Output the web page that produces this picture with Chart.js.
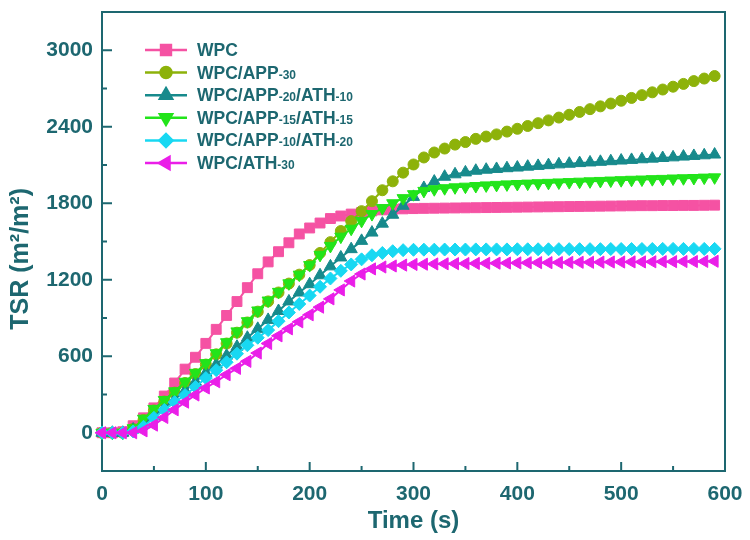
<!DOCTYPE html>
<html>
<head>
<meta charset="utf-8">
<script src="https://cdn.jsdelivr.net/npm/chart.js"></script>
<style>
  html, body { margin: 0; padding: 0; background: #fff; }
  #wrap { width: 750px; height: 540px; }
</style>
</head>
<body>
<div id="wrap"><canvas id="tsr" width="750" height="540"></canvas></div>
<script>
// time (s)
const times = [0,10,20,30,40,50,60,70,80,90,100,110,120,130,140,150,160,170,180,190,
  200,210,220,230,240,250,260,270,280,290,300,310,320,330,340,350,360,370,380,390,
  400,410,420,430,440,450,460,470,480,490,500,510,520,530,540,550,560,570,580,590];

// TSR (m2/m2) per sample
const wpc = [0,0,8,55,117,195,288,390,499,592,
  701,811,920,1029,1138,1247,1340,1420,1490,1559,
  1606,1645,1680,1700,1715,1728,1740,1748,1753,1756,
  1758,1760,1761,1762,1763,1764,1765,1766,1767,1768,
  1769,1770,1771,1772,1773,1774,1775,1776,1777,1778,
  1779,1780,1781,1781,1782,1782,1783,1783,1784,1785];
const app30 = [0,0,0,30,100,175,245,315,390,460,
  535,615,700,785,865,950,1030,1100,1170,1240,
  1315,1410,1495,1582,1660,1738,1816,1902,1972,2040,
  2104,2159,2198,2229,2260,2280,2305,2323,2340,2362,
  2384,2406,2428,2450,2472,2494,2516,2538,2560,2582,
  2604,2626,2648,2670,2692,2714,2736,2758,2778,2798];
const app20ath10 = [0,0,0,25,70,130,195,260,330,400,
  470,535,605,675,745,815,885,955,1030,1100,
  1165,1235,1305,1375,1440,1505,1570,1640,1710,1780,
  1850,1920,1970,2008,2027,2042,2055,2063,2069,2075,
  2080,2087,2093,2099,2105,2110,2115,2120,2125,2130,
  2135,2140,2145,2150,2155,2160,2166,2171,2176,2182];
const app15ath15 = [0,0,0,35,110,187,257,325,400,470,
  546,624,710,795,875,959,1037,1105,1172,1240,
  1315,1395,1465,1538,1600,1662,1715,1762,1800,1840,
  1871,1897,1910,1918,1925,1930,1935,1940,1944,1948,
  1951,1954,1957,1960,1963,1966,1969,1972,1975,1978,
  1981,1984,1986,1989,1991,1994,1996,1998,2001,2003];
const app10ath20 = [0,0,0,10,47,117,179,240,296,359,
  429,491,553,620,686,745,805,875,943,1010,
  1076,1145,1210,1270,1320,1360,1392,1410,1424,1432,
  1435,1436,1436,1437,1437,1437,1438,1438,1438,1438,
  1439,1439,1439,1439,1440,1440,1440,1440,1440,1441,
  1441,1441,1441,1441,1442,1442,1442,1442,1442,1442];
const ath30 = [0,0,0,0,15,60,120,180,240,296,
  351,400,455,505,560,625,700,760,815,870,
  925,985,1050,1120,1190,1245,1285,1300,1308,1315,
  1320,1322,1324,1325,1326,1327,1328,1329,1330,1331,
  1332,1333,1334,1334,1335,1336,1337,1337,1338,1339,
  1339,1340,1340,1341,1342,1342,1343,1343,1344,1345];

const xTicks = [0,100,200,300,400,500,600];
const xMinor = [50,150,250,350,450,550];
const yTicks = [0,600,1200,1800,2400,3000];
const yMinor = [300,900,1500,2100,2700];

// legend text: [text, small?]
const legendParts = [
  [['WPC', false]],
  [['WPC/APP', false], ['-30', true]],
  [['WPC/APP', false], ['-20', true], ['/ATH', false], ['-10', true]],
  [['WPC/APP', false], ['-15', true], ['/ATH', false], ['-15', true]],
  [['WPC/APP', false], ['-10', true], ['/ATH', false], ['-20', true]],
  [['WPC/ATH', false], ['-30', true]]
];

const ink = '#1d6770';
const font = 'Arial, "Liberation Sans", sans-serif';

function series(vals, color, style, rot, r, order) {
  return {
    data: times.map((t, i) => ({ x: t, y: vals[i] })),
    borderColor: color,
    backgroundColor: color,
    pointBackgroundColor: color,
    pointBorderColor: color,
    borderWidth: 2,
    pointStyle: style,
    rotation: rot,
    pointRadius: r,
    pointBorderWidth: 1,
    tension: 0,
    clip: false,
    order: order
  };
}

const datasets = [
  series(wpc, '#f552a3', 'rect', 0, 7, 6),
  series(app30, '#8db20a', 'circle', 0, 5.5, 5),
  series(app20ath10, '#178a8c', 'triangle', 0, 7, 4),
  series(app15ath15, '#22e41a', 'triangle', 180, 7, 3),
  series(app10ath20, '#18d8f2', 'rectRot', 0, 6.5, 2),
  series(ath30, '#ea1ee8', 'triangle', 270, 7, 1)
];

const framePlugin = {
  id: 'frame',
  beforeDatasetsDraw(chart) {
    const { ctx, chartArea: a, scales } = chart;
    ctx.save();
    ctx.strokeStyle = ink;
    ctx.lineWidth = 2;
    ctx.strokeRect(a.left, a.top, a.right - a.left, a.bottom - a.top);
    ctx.beginPath();
    xTicks.forEach(v => { const px = scales.x.getPixelForValue(v); ctx.moveTo(px, a.bottom); ctx.lineTo(px, a.bottom - 9); });
    xMinor.forEach(v => { const px = scales.x.getPixelForValue(v); ctx.moveTo(px, a.bottom); ctx.lineTo(px, a.bottom - 5); });
    yTicks.forEach(v => { const py = scales.y.getPixelForValue(v); ctx.moveTo(a.left, py); ctx.lineTo(a.left + 10, py); });
    yMinor.forEach(v => { const py = scales.y.getPixelForValue(v); ctx.moveTo(a.left, py); ctx.lineTo(a.left + 5, py); });
    ctx.stroke();
    ctx.restore();
  }
};

const legendPlugin = {
  id: 'tsrLegend',
  afterDraw(chart) {
    const ctx = chart.ctx;
    ctx.save();
    chart.data.datasets.forEach((ds, i) => {
      const y = 50 + i * 22.6;
      ctx.strokeStyle = ds.borderColor;
      ctx.lineWidth = 2.5;
      ctx.beginPath();
      ctx.moveTo(145, y);
      ctx.lineTo(187, y);
      ctx.stroke();
      ctx.fillStyle = ds.borderColor;
      Chart.helpers.drawPoint(ctx, {
        pointStyle: ds.pointStyle, rotation: ds.rotation,
        radius: ds.pointRadius, borderWidth: 1
      }, 166, y);
      let x = 197;
      ctx.fillStyle = ink;
      ctx.textBaseline = 'alphabetic';
      legendParts[i].forEach(([txt, small]) => {
        ctx.font = (small ? 'bold 12px ' : 'bold 17.5px ') + font;
        ctx.fillText(txt, x, y + 6);
        x += ctx.measureText(txt).width;
      });
    });
    ctx.restore();
  }
};

new Chart(document.getElementById('tsr'), {
  type: 'line',
  data: { datasets },
  plugins: [framePlugin, legendPlugin],
  options: {
    responsive: false,
    animation: false,
    devicePixelRatio: 1,
    layout: { padding: { top: 12, right: 25, left: 0, bottom: 0 } },
    plugins: { legend: { display: false }, tooltip: { enabled: false } },
    scales: {
      x: {
        type: 'linear', min: 0, max: 600,
        afterFit: s => { s.height = 69; s.paddingLeft = 0; s.paddingRight = 0; },
        afterBuildTicks: s => { s.ticks = xTicks.map(v => ({ value: v })); },
        grid: { display: false, drawTicks: false },
        border: { display: false },
        ticks: { color: ink, font: { family: font, size: 21, weight: 'bold' }, padding: 11, maxRotation: 0 },
        title: { display: true, text: 'Time (s)', color: ink, font: { family: font, size: 24, weight: 'bold' }, padding: { top: 0, bottom: 4 } }
      },
      y: {
        type: 'linear', min: -300, max: 3300,
        afterFit: s => { s.width = 102; s.paddingTop = 0; s.paddingBottom = 0; },
        afterBuildTicks: s => { s.ticks = yTicks.map(v => ({ value: v })); },
        grid: { display: false, drawTicks: false },
        border: { display: false },
        ticks: { color: ink, font: { family: font, size: 21, weight: 'bold' }, padding: 9, callback: v => String(v) },
        title: { display: true, text: 'TSR (m²/m²)\u00a0\u00a0\u00a0\u00a0\u00a0', color: ink, font: { family: font, size: 25, weight: 'bold' }, padding: { top: 6, bottom: 0 } }
      }
    }
  }
});
</script>
</body>
</html>
